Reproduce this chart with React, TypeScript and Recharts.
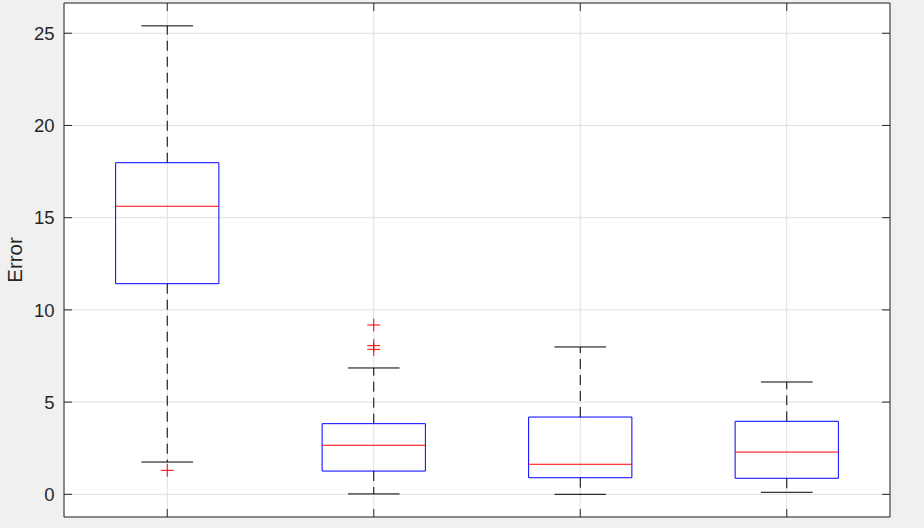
import { ComposedChart, XAxis, YAxis, CartesianGrid, ReferenceLine, ReferenceArea, Scatter } from 'recharts';

// box statistics, one entry per group
const groups = [1, 2, 3, 4];
const lowerWhisker = [1.75, 0.02, 0.0, 0.11];
const q1 = [11.42, 1.26, 0.9, 0.87];
const median = [15.62, 2.66, 1.63, 2.29];
const q3 = [17.98, 3.83, 4.19, 3.96];
const upperWhisker = [25.4, 6.85, 7.99, 6.09];

// outliers (group, value)
const outlierGroup = [1, 2, 2, 2];
const outlierValue = [1.3, 9.18, 8.06, 7.86];

const yTicks = [0, 5, 10, 15, 20, 25];
const yDomain = [-1.23, 26.64];
const xDomain = [0.5, 4.5];

const AXIS = '#262626';
const GRID = '#dfdfdf';
const FONT = '"Liberation Sans", Arial, sans-serif';
const BOX_HALF = 0.25;
const CAP_HALF = 0.125;
const TICK_LEN = 8;

const PlusMark = (props: any) => {
  const { cx, cy } = props;
  if (cx == null || cy == null) return null;
  return (
    <g stroke="#ff0000" strokeWidth={1}>
      <line x1={cx - 6.5} y1={cy} x2={cx + 6.5} y2={cy} />
      <line x1={cx} y1={cy - 6.5} x2={cx} y2={cy + 6.5} />
    </g>
  );
};

// MATLAB style ticks point into the axes; x/y arrive at the axis edge
const insideTick = (side: 'left' | 'right' | 'top' | 'bottom', withLabel = false) => (props: any) => {
  const { x, y, payload } = props;
  let dx = 0;
  let dy = 0;
  if (side === 'left') dx = TICK_LEN;
  if (side === 'right') dx = -TICK_LEN;
  if (side === 'top') dy = TICK_LEN;
  if (side === 'bottom') dy = -TICK_LEN;
  return (
    <g>
      <line x1={x} y1={y} x2={x + dx} y2={y + dy} stroke={AXIS} strokeWidth={1} />
      {withLabel && (
        <text x={x - 9.5} y={y} dy="0.36em" textAnchor="end" fontSize={18.5} fill={AXIS} fontFamily={FONT}>
          {payload.value}
        </text>
      )}
    </g>
  );
};

export default function App() {
  const outliers = outlierGroup.map((g, i) => ({ x: g, y: outlierValue[i] }));

  return (
    <div style={{ position: 'absolute', left: 0, top: 0, width: 924, height: 528, background: '#f0f0f0' }}>
      <ComposedChart width={924} height={528} data={outliers} margin={{ top: 2, right: 33, bottom: 10, left: 20 }}>
        <CartesianGrid stroke={GRID} fill="#ffffff" />
        <XAxis
          dataKey="x"
          type="number"
          domain={xDomain}
          ticks={groups}
          height={1}
          allowDataOverflow
          tickSize={0}
          tickMargin={0}
          tickLine={false}
          tick={insideTick('bottom')}
          stroke={AXIS}
        />
        <XAxis
          xAxisId="top"
          orientation="top"
          dataKey="x"
          type="number"
          domain={xDomain}
          ticks={groups}
          height={1}
          allowDataOverflow
          tickSize={0}
          tickMargin={0}
          tickLine={false}
          tick={insideTick('top')}
          stroke={AXIS}
        />
        <YAxis
          type="number"
          domain={yDomain}
          ticks={yTicks}
          allowDataOverflow
          width={44}
          tickSize={0}
          tickMargin={0}
          tickLine={false}
          tick={insideTick('left', true)}
          stroke={AXIS}
          label={{
            value: 'Error',
            angle: -90,
            position: 'left',
            offset: 5,
            style: { textAnchor: 'middle', fontSize: 20.5, fill: AXIS, fontFamily: FONT },
          }}
        />
        <YAxis
          yAxisId="right"
          orientation="right"
          dataKey="y"
          type="number"
          domain={yDomain}
          ticks={yTicks}
          allowDataOverflow
          width={1}
          tickSize={0}
          tickMargin={0}
          tickLine={false}
          tick={insideTick('right')}
          stroke={AXIS}
        />

        {/* dashed whiskers */}
        {groups.map((g, i) => (
          <ReferenceLine
            key={`wu-${g}`}
            segment={[{ x: g, y: q3[i] }, { x: g, y: upperWhisker[i] }]}
            stroke="#000000"
            strokeDasharray="10 6"
          />
        ))}
        {groups.map((g, i) => (
          <ReferenceLine
            key={`wl-${g}`}
            segment={[{ x: g, y: q1[i] }, { x: g, y: lowerWhisker[i] }]}
            stroke="#000000"
            strokeDasharray="10 6"
          />
        ))}

        {/* caps */}
        {groups.map((g, i) => (
          <ReferenceLine
            key={`cu-${g}`}
            segment={[{ x: g - CAP_HALF, y: upperWhisker[i] }, { x: g + CAP_HALF, y: upperWhisker[i] }]}
            stroke="#000000"
          />
        ))}
        {groups.map((g, i) => (
          <ReferenceLine
            key={`cl-${g}`}
            segment={[{ x: g - CAP_HALF, y: lowerWhisker[i] }, { x: g + CAP_HALF, y: lowerWhisker[i] }]}
            stroke="#000000"
          />
        ))}

        {/* boxes */}
        {groups.map((g, i) => (
          <ReferenceArea
            key={`box-${g}`}
            x1={g - BOX_HALF}
            x2={g + BOX_HALF}
            y1={q1[i]}
            y2={q3[i]}
            fill="none"
            fillOpacity={0}
            stroke="#0000ff"
            strokeWidth={1}
            strokeOpacity={1}
          />
        ))}

        {/* medians */}
        {groups.map((g, i) => (
          <ReferenceLine
            key={`med-${g}`}
            segment={[{ x: g - BOX_HALF, y: median[i] }, { x: g + BOX_HALF, y: median[i] }]}
            stroke="#ff0000"
          />
        ))}

        <Scatter dataKey="y" shape={PlusMark} isAnimationActive={false} />
      </ComposedChart>
    </div>
  );
}
